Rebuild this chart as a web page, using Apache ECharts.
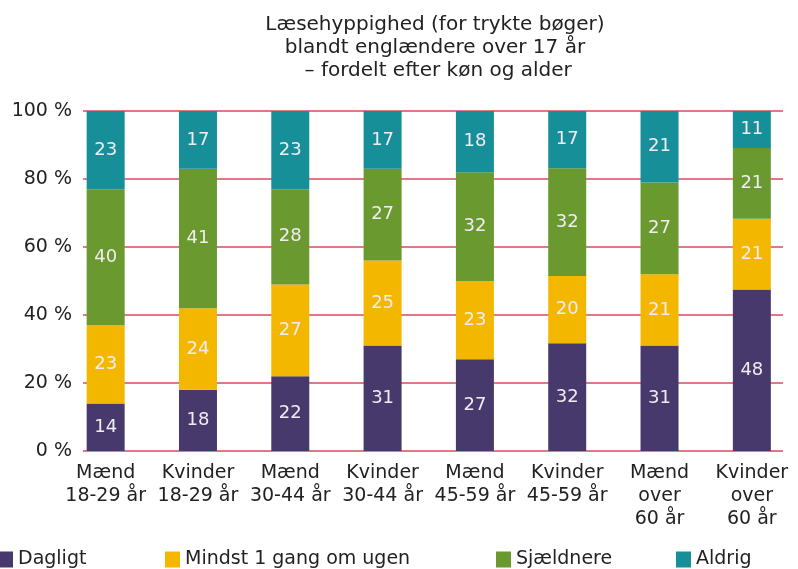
<!DOCTYPE html>
<html>
<head>
<meta charset="utf-8">
<script src="https://cdn.jsdelivr.net/npm/echarts@6/dist/echarts.min.js"></script>
<style>
html,body{margin:0;padding:0;background:#fff;}
#c{width:798px;height:569px;}
</style>
</head>
<body>
<div id="c"></div>
<script>
const categories = ['Mænd\n18-29 år','Kvinder\n18-29 år','Mænd\n30-44 år','Kvinder\n30-44 år','Mænd\n45-59 år','Kvinder\n45-59 år','Mænd\nover\n60 år','Kvinder\nover\n60 år'];
const seriesNames = ['Dagligt','Mindst 1 gang om ugen','Sjældnere','Aldrig'];
const dagligt   = [14,18,22,31,27,32,31,48];
const ugentligt = [23,24,27,25,23,20,21,21];
const sjaeldnere= [40,41,28,27,32,32,27,21];
const aldrig    = [23,17,23,17,18,17,21,11];
const yTicks = [0,20,40,60,80,100];
const colors = ['#48396C','#F4B700','#6A992F','#178F98'];

const raw = [dagligt, ugentligt, sjaeldnere, aldrig];
const totals = categories.map((_, i) => raw.reduce((s, a) => s + a[i], 0));
const FONT = 'DejaVu Sans';

const chart = echarts.init(document.getElementById('c'), null, {renderer:'canvas'});
const legends = seriesNames.map((n, i) => ({
  data: [n],
  left: [-2, 165, 496, 676][i],
  top: 550,
  padding: 0,
  itemWidth: 15,
  itemHeight: 16,
  itemGap: 5,
  icon: 'rect',
  selectedMode: false,
  textStyle: {fontFamily: FONT, fontSize: 19, color: '#222'}
}));

const option = {
  backgroundColor: '#fff',
  animation: false,
  title: {
    text: 'Læsehyppighed (for trykte bøger)\nblandt englændere over 17 år\n – fordelt efter køn og alder',
    left: 430,
    textAlign: 'center',
    top: 8,
    textStyle: {fontFamily: FONT, fontSize: 20, fontWeight: 'normal', color: '#222', lineHeight: 23}
  },
  legend: legends,
  grid: [
    {left: 83, width: 700, top: 111, height: 340},
    {left: 59.5, width: 744, top: 111, height: 340}
  ],
  xAxis: [
    {gridIndex: 0, type: 'category', data: categories, show: false},
    {gridIndex: 1, type: 'category', data: categories,
     axisLine: {show: false}, axisTick: {show: false},
     axisLabel: {interval: 0, margin: 11, fontFamily: FONT, fontSize: 19, color: '#222', lineHeight: 23, align: 'center', verticalAlign: 'top'}}
  ],
  yAxis: [
    {gridIndex: 0, type: 'value', min: 0, max: 100, interval: 20,
     axisLine: {show: false}, axisTick: {show: false},
     splitLine: {show: true, lineStyle: {color: '#D64D5E', width: 1.5}},
     axisLabel: {margin: 11, fontFamily: FONT, fontSize: 19, color: '#222',
       formatter: v => yTicks.includes(v) ? v + ' %' : ''}},
    {gridIndex: 1, type: 'value', min: 0, max: 100, interval: 20, show: false, splitLine: {show: false}}
  ],
  series: [
    {type: 'bar', xAxisIndex: 0, yAxisIndex: 0, data: [], silent: true},
    ...seriesNames.map((n, si) => ({
      name: n,
      type: 'bar',
      stack: 'total',
      xAxisIndex: 1,
      yAxisIndex: 1,
      barWidth: 38,
      itemStyle: {color: colors[si]},
      label: {show: true, position: 'inside', color: '#F0ECF4', fontFamily: FONT, fontSize: 18,
        formatter: p => String(raw[si][p.dataIndex])},
      data: raw[si].map((v, i) => v / totals[i] * 100)
    }))
  ]
};
chart.setOption(option);
</script>
</body>
</html>
